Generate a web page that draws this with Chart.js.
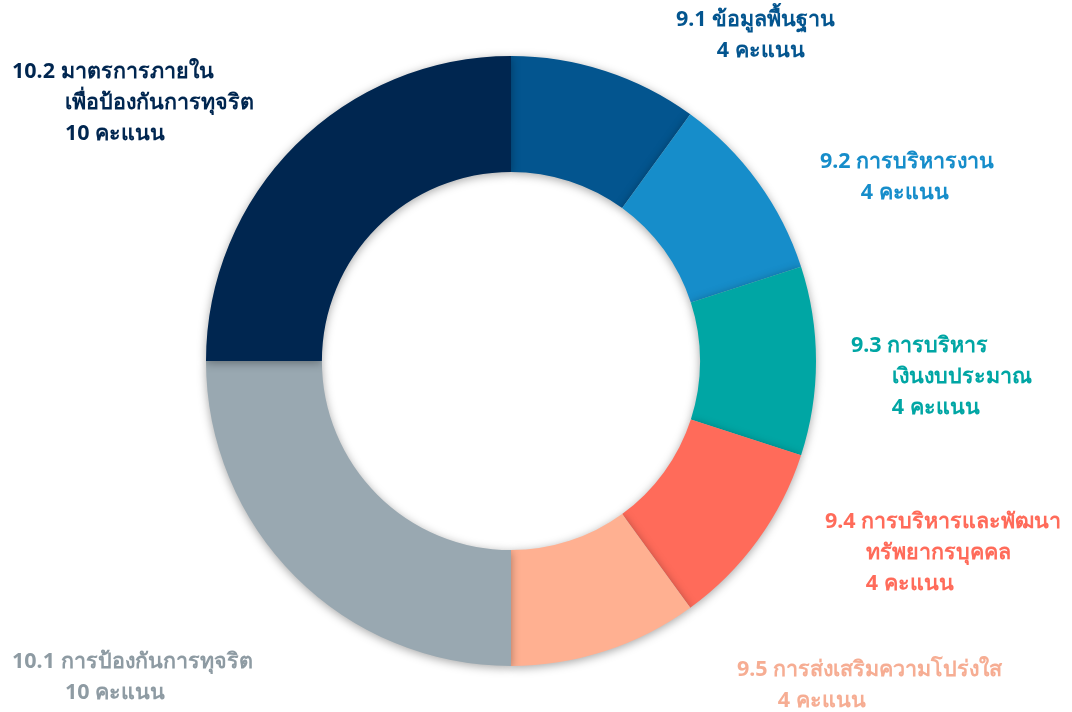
<!DOCTYPE html>
<html lang="th">
<head>
  <meta charset="UTF-8">
  <title>Doughnut</title>
  <script src="https://cdn.jsdelivr.net/npm/chart.js"></script>
  <style>
    html, body { margin: 0; padding: 0; background: #fff; }
    #wrap { width: 1072px; height: 712px; position: relative; }
  </style>
</head>
<body>
  <div id="wrap"><canvas id="my1"></canvas></div>
<script>
  // ข้อมูล
  var codes = ['9.1', '9.2', '9.3', '9.4', '9.5', '10.1', '10.2']
  var names = [
    ['ข้อมูลพื้นฐาน'],
    ['การบริหารงาน'],
    ['การบริหาร', 'เงินงบประมาณ'],
    ['การบริหารและพัฒนา', 'ทรัพยากรบุคคล'],
    ['การส่งเสริมความโปร่งใส'],
    ['การป้องกันการทุจริต'],
    ['มาตรการภายใน', 'เพื่อป้องกันการทุจริต']
  ]
  var scores = [4, 4, 4, 4, 4, 10, 10]
  var unit = 'คะแนน'

  var colors = ['#03558F', '#168DCA', '#00A6A4', '#FF6B5A', '#FFB091', '#99A8B1', '#002650']
  var textColors = ['#03558F', '#168DCA', '#00A6A4', '#FF6B5A', '#F6AD93', '#8E9BA3', '#002650']
  // ตำแหน่งป้าย (มุมซ้าย, กลางบรรทัดแรก)
  var labelPos = [[676, 20], [820, 162], [851, 346], [825, 522], [737, 670], [12, 662], [12, 72]]

  const shadowPlugin = {
    id: 'shadow',
    beforeDatasetDraw(chart) {
      const ctx = chart.ctx
      ctx.save()
      ctx.shadowColor = 'rgba(0,0,0,0.35)'
      ctx.shadowBlur = 10
      ctx.shadowOffsetX = 0
      ctx.shadowOffsetY = 2
    },
    afterDatasetDraw(chart) {
      chart.ctx.restore()
    }
  }

  const labelPlugin = {
    id: 'outLabels',
    afterDraw(chart) {
      const ctx = chart.ctx
      ctx.save()
      ctx.font = 'bold 21.5px "Noto Sans", sans-serif'
      ctx.textBaseline = 'middle'
      ctx.textAlign = 'left'
      const lineH = 31
      for (let i = 0; i < codes.length; i++) {
        const p = labelPos[i]
        const indent = ctx.measureText(codes[i]).width + 10
        const lines = [codes[i] + ' ' + names[i][0]]
        for (let k = 1; k < names[i].length; k++) lines.push(names[i][k])
        lines.push(scores[i] + ' ' + unit)
        ctx.fillStyle = textColors[i]
        lines.forEach(function (t, k) {
          ctx.fillText(t, p[0] + (k > 0 ? indent : 0), p[1] + k * lineH)
        })
      }
      ctx.restore()
    }
  }

  new Chart(document.getElementById('my1'), {
    type: 'doughnut',
    data: {
      labels: codes,
      datasets: [{
        data: scores,
        backgroundColor: colors,
        borderWidth: 0,
        hoverOffset: 0
      }]
    },
    options: {
      responsive: true,
      maintainAspectRatio: false,
      animation: false,
      cutout: '62%',
      layout: { padding: { top: 56, bottom: 46, left: 206, right: 256 } },
      plugins: {
        legend: { display: false },
        tooltip: { enabled: false }
      }
    },
    plugins: [shadowPlugin, labelPlugin]
  })
</script>
</body>
</html>
